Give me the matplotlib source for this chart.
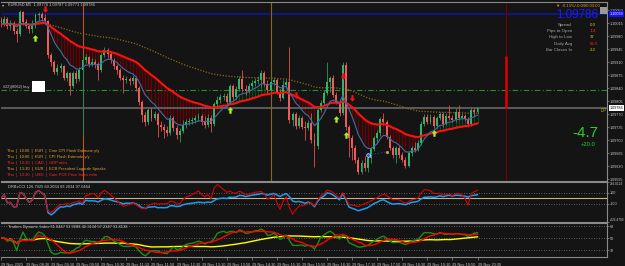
import numpy as np
import pandas as pd
import matplotlib
matplotlib.use("Agg")
import matplotlib.pyplot as plt
import matplotlib.transforms as mtransforms
from matplotlib.path import Path
from matplotlib.patches import Rectangle
from matplotlib import font_manager as fm

# ---------------- data (EURUSD M5, 29 Nov 2023) ----------------
symbol_header = "EURUSD,M5  1.09776 1.09787 1.09771 1.09786"
start_time = "2023-11-29 07:50"
first_open = 1.10023
closes = [
    1.10012, 1.10026, 1.10007, 1.10015, 1.09994, 1.09986, 1.10045, 1.10018, 1.10007, 1.09999,
    1.10007, 1.10037, 1.10039, 1.10029, 1.10020, 1.09929, 1.09910, 1.09883, 1.09894, 1.09899,
    1.09867, 1.09881, 1.09846, 1.09881, 1.09865, 1.09889, 1.09916, 1.09924, 1.09905, 1.09910,
    1.09905, 1.09889, 1.09929, 1.09942, 1.09932, 1.09916, 1.09899, 1.09889, 1.09867, 1.09862,
    1.09865, 1.09859, 1.09867, 1.09840, 1.09803, 1.09768, 1.09749, 1.09781, 1.09760, 1.09770,
    1.09741, 1.09735, 1.09727, 1.09719, 1.09760, 1.09733, 1.09714, 1.09725, 1.09741, 1.09749,
    1.09751, 1.09754, 1.09760, 1.09765, 1.09749, 1.09741, 1.09760, 1.09743, 1.09797, 1.09808,
    1.09816, 1.09819, 1.09803, 1.09846, 1.09816, 1.09838, 1.09865, 1.09838, 1.09832, 1.09846,
    1.09854, 1.09859, 1.09862, 1.09881, 1.09851, 1.09835, 1.09856, 1.09862, 1.09830, 1.09813,
    1.09848, 1.09856, 1.09754, 1.09770, 1.09738, 1.09760, 1.09735, 1.09733, 1.09746, 1.09700,
    1.09684, 1.09781, 1.09800, 1.09827, 1.09856, 1.09867, 1.09821, 1.09803, 1.09773, 1.09902,
    1.09735, 1.09706, 1.09679, 1.09647, 1.09614, 1.09638, 1.09625, 1.09652, 1.09676, 1.09706,
    1.09719, 1.09757, 1.09749, 1.09708, 1.09679, 1.09660, 1.09679, 1.09660, 1.09647, 1.09630,
    1.09665, 1.09679, 1.09673, 1.09692, 1.09743, 1.09762, 1.09749, 1.09762, 1.09738, 1.09760,
    1.09770, 1.09743, 1.09765, 1.09760, 1.09754, 1.09776, 1.09760, 1.09765, 1.09757, 1.09743,
    1.09781, 1.09776, 1.09786]
highs = [
    1.10031, 1.10034, 1.10031, 1.10023, 1.10020, 1.10002, 1.10050, 1.10047, 1.10026, 1.10012,
    1.10023, 1.10042, 1.10045, 1.10045, 1.10039, 1.10023, 1.09934, 1.09916, 1.09905, 1.09908,
    1.09902, 1.09886, 1.09883, 1.09886, 1.09889, 1.09897, 1.09921, 1.09932, 1.09926, 1.09921,
    1.09918, 1.09910, 1.09934, 1.09951, 1.09948, 1.09937, 1.09921, 1.09905, 1.09894, 1.09875,
    1.09873, 1.09870, 1.09875, 1.09873, 1.09846, 1.09808, 1.09776, 1.09789, 1.09789, 1.09778,
    1.09776, 1.09751, 1.09743, 1.09738, 1.09768, 1.09765, 1.09741, 1.09733, 1.09754, 1.09757,
    1.09760, 1.09762, 1.09768, 1.09773, 1.09770, 1.09765, 1.09770, 1.09768, 1.09803, 1.09819,
    1.09824, 1.09827, 1.09827, 1.09851, 1.09851, 1.09846, 1.09873, 1.09889, 1.09848, 1.09854,
    1.09862, 1.09867, 1.09873, 1.09889, 1.09886, 1.09862, 1.09865, 1.09870, 1.09867, 1.09838,
    1.09862, 1.09865, 1.09951, 1.09776, 1.09776, 1.09768, 1.09765, 1.09751, 1.09754, 1.09773,
    1.09719, 1.09786, 1.09808, 1.09835, 1.09910, 1.09873, 1.09875, 1.09830, 1.09811, 1.09910,
    1.09910, 1.09741, 1.09714, 1.09687, 1.09655, 1.09647, 1.09657, 1.09660, 1.09682, 1.09711,
    1.09727, 1.09762, 1.09773, 1.09754, 1.09714, 1.09684, 1.09684, 1.09684, 1.09668, 1.09655,
    1.09671, 1.09684, 1.09695, 1.09700, 1.09751, 1.09770, 1.09770, 1.09770, 1.09768, 1.09765,
    1.09776, 1.09776, 1.09773, 1.09795, 1.09768, 1.09787, 1.09795, 1.09773, 1.09770, 1.09762,
    1.09789, 1.09787, 1.09787]
lows = [
    1.10004, 1.10007, 1.09999, 1.09996, 1.09986, 1.09964, 1.09980, 1.10010, 1.10002, 1.09988,
    1.09988, 1.10002, 1.10023, 1.10020, 1.10012, 1.09921, 1.09899, 1.09878, 1.09875, 1.09883,
    1.09862, 1.09859, 1.09821, 1.09840, 1.09854, 1.09859, 1.09714, 1.09908, 1.09897, 1.09899,
    1.09894, 1.09862, 1.09883, 1.09924, 1.09921, 1.09908, 1.09891, 1.09878, 1.09862, 1.09827,
    1.09854, 1.09848, 1.09851, 1.09832, 1.09795, 1.09749, 1.09738, 1.09741, 1.09751, 1.09754,
    1.09708, 1.09725, 1.09706, 1.09711, 1.09714, 1.09725, 1.09703, 1.09695, 1.09719, 1.09733,
    1.09741, 1.09743, 1.09746, 1.09751, 1.09741, 1.09733, 1.09735, 1.09722, 1.09738, 1.09792,
    1.09800, 1.09808, 1.09797, 1.09797, 1.09808, 1.09811, 1.09832, 1.09830, 1.09821, 1.09827,
    1.09838, 1.09846, 1.09851, 1.09840, 1.09846, 1.09827, 1.09830, 1.09848, 1.09824, 1.09805,
    1.09811, 1.09840, 1.09746, 1.09738, 1.09730, 1.09733, 1.09730, 1.09700, 1.09727, 1.09692,
    1.09628, 1.09676, 1.09776, 1.09795, 1.09821, 1.09830, 1.09816, 1.09797, 1.09765, 1.09768,
    1.09727, 1.09655, 1.09647, 1.09638, 1.09609, 1.09609, 1.09617, 1.09614, 1.09638, 1.09671,
    1.09695, 1.09711, 1.09741, 1.09703, 1.09673, 1.09652, 1.09638, 1.09652, 1.09641, 1.09625,
    1.09628, 1.09657, 1.09668, 1.09671, 1.09687, 1.09738, 1.09743, 1.09743, 1.09733, 1.09733,
    1.09754, 1.09735, 1.09741, 1.09754, 1.09749, 1.09749, 1.09754, 1.09757, 1.09751, 1.09735,
    1.09738, 1.09765, 1.09771]

price_ticks = [1.10050, 1.10015, 1.09980, 1.09945, 1.09910, 1.09875, 1.09840,
               1.09805, 1.09770, 1.09735, 1.09700, 1.09665, 1.09630, 1.09595]
ema_fast_n, ema_slow_n, ema_long_n = 9, 34, 100
cci_fast_n, cci_slow_n = 14, 50
rsi_n, tdi_fast_n, tdi_signal_n, tdi_base_n = 13, 2, 7, 34

bid = 1.09786
day_open = 1.09926
blue_level = 1.10039
order_price = 1.09835
order_label = "#22)(8062) buy"

event_bars = [26, 86]
range_bar = 161
up_arrow_bars = [11, 73, 107, 110, 138]
up_arrow_prices = [1.09975, 1.09781, 1.09757, 1.09714, 1.09719]
down_arrow_bars = [14, 94, 109, 112]
down_arrow_prices = [1.10052, 1.09821, 1.09873, 1.09813]
trade_bars = [117, 123]
trade_prices = [1.09660, 1.09668]

cci_limits = (-426.4790, 292.0123)
cci_label = "DRBxCCI 126.7925 69.2034 69.2034 97.0464"
tdi_limits = (21.5, 72.5)
tdi_levels = [68, 50, 32]
tdi_label = "Traders Dynamic Index 61.0447 53.9288 42.3134 57.2347 53.8138"

news = [("Thu", "10:00", "EUR", "Core CPI Flash Estimate y/y", "med"),
        ("Thu", "10:00", "EUR", "CPI Flash Estimate y/y", "med"),
        ("Thu", "13:30", "CAD", "GDP m/m", "high"),
        ("Thu", "13:30", "EUR", "ECB President Lagarde Speaks", "med"),
        ("Thu", "13:30", "USD", "Core PCE Price Index m/m", "high")]

info_labels = ["Spread", "Pips to Open", "High to Low", "Daily Avg", "Bar Closes In"]
info_values = ["0.0", "-14", "37", "65.5", "2:2"]
info_colors = ["#E8C020", "#FF2020", "#E8C020", "#FF2020", "#E8C020"]
change_text = "\u25BC -0.13%/-0.0/00:03:00"
pips_big = "-4.7"
pips_small = "+20.0"

# ---------------- fonts ----------------
_names = {f.name for f in fm.fontManager.ttflist}
if "Liberation Sans Narrow" in _names:
    FONT, FS = "Liberation Sans Narrow", 1.0
else:
    FONT, FS = "Liberation Sans", 0.82
plt.rcParams["font.family"] = [FONT, "DejaVu Sans"]

# ---------------- derived series ----------------
n = len(closes)
x = np.arange(n)
c = np.array(closes)
o = np.array([first_open] + closes[:-1])
h = np.array(highs)
l = np.array(lows)
s = pd.Series(c)
ema_fast = s.ewm(span=ema_fast_n, adjust=False).mean().values
ema_slow = s.ewm(span=ema_slow_n, adjust=False).mean().values
ema_long = s.ewm(span=ema_long_n, adjust=False).mean().values

tp = pd.Series((h + l + c) / 3.0)
def cci(period):
    sma = tp.rolling(period, min_periods=2).mean()
    mad = tp.rolling(period, min_periods=2).apply(lambda v: np.mean(np.abs(v - v.mean())), raw=True)
    return ((tp - sma) / (0.015 * mad)).replace([np.inf, -np.inf], np.nan).fillna(0).values
cci_fast = cci(cci_fast_n)
cci_slow = cci(cci_slow_n)

d = s.diff().fillna(0)
gain = d.clip(lower=0).ewm(alpha=1 / rsi_n, adjust=False).mean()
loss = (-d.clip(upper=0)).ewm(alpha=1 / rsi_n, adjust=False).mean()
rsi = (100 - 100 / (1 + gain / loss.replace(0, np.nan))).fillna(50)
tdi_green = rsi.rolling(tdi_fast_n, min_periods=1).mean().values
tdi_red = rsi.rolling(tdi_signal_n, min_periods=1).mean().values
tdi_yellow = rsi.rolling(tdi_base_n, min_periods=1).mean().values

times = pd.date_range(start_time, periods=n, freq="5min")

# ---------------- figure layout ----------------
W, H = 625, 266
BG = "#141414"
GRID = "#8A8A8A"
LBL = "#C8C8C8"
AX_FS = 3.3
fig = plt.figure(figsize=(W / 100, H / 100), dpi=100, facecolor=BG)

def rect(x0, y0, x1, y1):
    return [x0 / W, 1 - y1 / H, (x1 - x0) / W, (y1 - y0) / H]

ax = fig.add_axes(rect(1, 2, 607, 181))
axc = fig.add_axes(rect(1, 182, 607, 222), sharex=ax)
axt = fig.add_axes(rect(1, 223, 607, 257), sharex=ax)

bar_px, bar_x0 = 3.138, 0.4
xlim = ((1 - bar_x0) / bar_px, (607 - bar_x0) / bar_px)

for a in (ax, axc, axt):
    a.set_facecolor(BG)
    for side in ("top", "bottom", "right"):
        a.spines[side].set_color(GRID)
        a.spines[side].set_linewidth(0.8)
    a.spines["left"].set_visible(False)
    a.yaxis.tick_right()
    a.tick_params(axis="y", which="both", labelsize=AX_FS * FS, colors=GRID,
                  labelcolor=LBL, length=1.5, width=0.5, pad=0.6)
    a.set_xlim(*xlim)

ax.tick_params(axis="x", bottom=False, labelbottom=False)
axc.tick_params(axis="x", bottom=False, labelbottom=False)

# ---------------- main chart ----------------
ax.set_ylim(1.10077 - 181 * 0.0000269, 1.10077 - 2 * 0.0000269)
ax.set_yticks(price_ticks)
ax.set_yticklabels([f"{p:.5f}" for p in price_ticks])

fast_below = ema_fast < ema_slow
ax.vlines(x[fast_below], ema_fast[fast_below], ema_slow[fast_below], color="#6E0000", lw=0.9, zorder=1)
ax.vlines(x[~fast_below], ema_fast[~fast_below], ema_slow[~fast_below], color="#0B4A12", lw=0.9, zorder=1)
ax.plot(x, ema_long, color="#8B6A14", lw=0.9, ls=(0, (1, 1.3)), zorder=2)

ax.axhline(blue_level, color="#0A1A9C", lw=1.2, zorder=1)
ax.axhline(order_price, color="#2E8B2E", lw=0.8, ls=(0, (5, 2, 1, 2)), zorder=1)
ax.axhline(bid, color="#6E6E6E", lw=1.1, zorder=1)
ax.axvline(event_bars[0], color="#B8561C", lw=0.8, zorder=1)
ax.axvline(event_bars[1], color="#8C6414", lw=0.8, zorder=1)
ax.axvline(range_bar, color="#7A0000", lw=0.8, zorder=1)
ax.vlines([range_bar], [bid], [day_open], color="#E00000", lw=1.8, zorder=3)

up = c >= o
BULL, BEAR = "#2DB56A", "#EF5B5B"
ax.vlines(x[up], l[up], h[up], color="#258A50", lw=0.7, zorder=3)
ax.vlines(x[~up], l[~up], h[~up], color="#C84848", lw=0.7, zorder=3)
body = np.maximum(np.abs(c - o), 0.000012)
ax.bar(x[up], body[up], bottom=np.minimum(o, c)[up], width=0.62, color=BULL, lw=0, zorder=4)
ax.bar(x[~up], body[~up], bottom=np.minimum(o, c)[~up], width=0.62, color=BEAR, lw=0, zorder=4)

ax.plot(x, ema_slow, color="#FF1010", lw=1.5, zorder=5)
ax.plot(x, ema_fast, color="#3A6FA8", lw=0.8, zorder=5)

arrow = Path([(0, 1), (-0.9, 0.05), (-0.35, 0.05), (-0.35, -1), (0.35, -1),
              (0.35, 0.05), (0.9, 0.05), (0, 1)])
arrow_dn = Path(arrow.vertices * np.array([1, -1]))
ax.scatter(up_arrow_bars, up_arrow_prices, marker=arrow, s=22, color="#A8F020", lw=0, zorder=6)
ax.scatter(down_arrow_bars, down_arrow_prices, marker=arrow_dn, s=22, color="#F01010", lw=0, zorder=6)
ax.plot(trade_bars, trade_prices, color="#2040C0", lw=0.6, ls=(0, (2, 2)), zorder=6)
ax.scatter(trade_bars[:1], trade_prices[:1], s=7, color="#3050FF", edgecolor="white", lw=0.4, zorder=7)
ax.scatter(trade_bars[1:], trade_prices[1:], s=5, color="#E0A020", lw=0, zorder=7)

ytrans = mtransforms.blended_transform_factory(ax.transAxes, ax.transData)
ax.text(1.004, bid, f"{bid:.5f}", transform=ytrans, fontsize=AX_FS * FS, color="black",
        ha="left", va="center", clip_on=False, zorder=10,
        bbox=dict(boxstyle="square,pad=0.2", fc="white", ec="none"))
ax.text(1.004, blue_level, f"{blue_level:.5f}", transform=ytrans, fontsize=AX_FS * FS, color="white",
        ha="left", va="center", clip_on=False, zorder=10,
        bbox=dict(boxstyle="square,pad=0.2", fc="#1010FF", ec="none"))
ax.text(0.999, bid, "DP", transform=ytrans, fontsize=4 * FS, color="#B8B020",
        ha="right", va="top", zorder=10)

# ---------------- CCI panel ----------------
axc.set_ylim(*cci_limits)
axc.axhline(100, color="#7A7A7A", lw=0.6, ls=(0, (1, 2)))
axc.axhline(-100, color="#7A7A7A", lw=0.6, ls=(0, (1, 2)))
axc.axhline(0, color="#C8B48C", lw=0.8)
axc.plot(x, cci_slow, color="#1E9BF0", lw=1.1, zorder=3)
axc.plot(x, cci_fast, color="#E00000", lw=0.8, zorder=4)
cci_ticks = [cci_limits[1], 100, -100, cci_limits[0]]
axc.set_yticks(cci_ticks)
axc.set_yticklabels([f"{cci_limits[1]:.4f}", "100", "-100", f"{cci_limits[0]:.4f}"])
_cl = axc.get_yticklabels()
_cl[0].set_verticalalignment("top")
_cl[-1].set_verticalalignment("bottom")
for t in (_cl[0], _cl[-1]):
    t.set_fontsize(2.9 * FS)
axc.text(0.012, 0.92, cci_label, transform=axc.transAxes, fontsize=3.5 * FS, color=LBL, va="top")

# ---------------- TDI panel ----------------
axt.set_ylim(*tdi_limits)
for lv in tdi_levels:
    axt.axhline(lv, color="#7A7A7A", lw=0.6, ls=(0, (1, 2)))
axt.plot(x, tdi_yellow, color="#FFFF00", lw=1.0, zorder=3)
axt.plot(x, tdi_green, color="#1C8C1C", lw=1.0, zorder=4)
axt.plot(x, tdi_red, color="#FF0000", lw=1.0, zorder=5)
axt.set_yticks(tdi_levels)
axt.set_yticklabels([str(v) for v in tdi_levels])
axt.text(0.012, 0.93, tdi_label, transform=axt.transAxes, fontsize=3.5 * FS, color=LBL, va="top")

tick_pos = list(range(0, n, 8))
tick_lbl = [times[0].strftime("%d %b %Y")] + [times[i].strftime("%d %b %H:%M") for i in tick_pos[1:]]
axt.set_xticks(tick_pos)
axt.set_xticklabels(tick_lbl, ha="left")
axt.tick_params(axis="x", labelsize=3.4 * FS, colors=GRID, labelcolor=LBL,
                length=2.5, width=0.5, pad=1.5, direction="out")

# ---------------- overlay texts ----------------
def T(px, py, txt, size, color, ha="left", va="center", **kw):
    return fig.text(px / W, 1 - py / H, txt, fontsize=size * FS, color=color, ha=ha, va=va, **kw)

T(2, 5, "\u25BE", 3.6, LBL)
T(8, 5, symbol_header, 3.5, LBL)

T(3, 87, order_label, 3.4, LBL)
fig.add_artist(Rectangle((32 / W, 1 - 92 / H), 13 / W, 11 / H, transform=fig.transFigure,
                         fc="white", ec="none", zorder=10))

impact_color = {"med": "#E0A030", "high": "#FF2A2A"}
for k, (day, tm, cur, title, imp) in enumerate(news):
    T(7, 151 + k * 5.9, f"{day}  |  {tm}  |  {cur}  |  {title}", 3.5, impact_color[imp])

T(600, 6, change_text, 3.7, "#E8A020", ha="right")
fig.add_artist(Rectangle((600 / W, 1 - 14 / H), 7 / W, 7 / H, transform=fig.transFigure,
                         fc="#9A9A9A", ec="none", zorder=10))
T(603.5, 10.5, "F", 3.6, "white", ha="center")
T(598, 15.5, f"{bid:.5f}", 10.2, "#1A1AFF", ha="right")
for k, (lab, val, col) in enumerate(zip(info_labels, info_values, info_colors)):
    yy = 25 + k * 6.2
    T(572, yy, lab, 3.9, "#A8A8A8", ha="right")
    T(590, yy, val, 3.9, col, ha="left")

T(598, 133, pips_big, 13.3, "#32CD32", ha="right")
T(595, 145, pips_small, 5.2, "#32CD32", ha="right")

fig.savefig("out.png", dpi=100, facecolor=BG)
